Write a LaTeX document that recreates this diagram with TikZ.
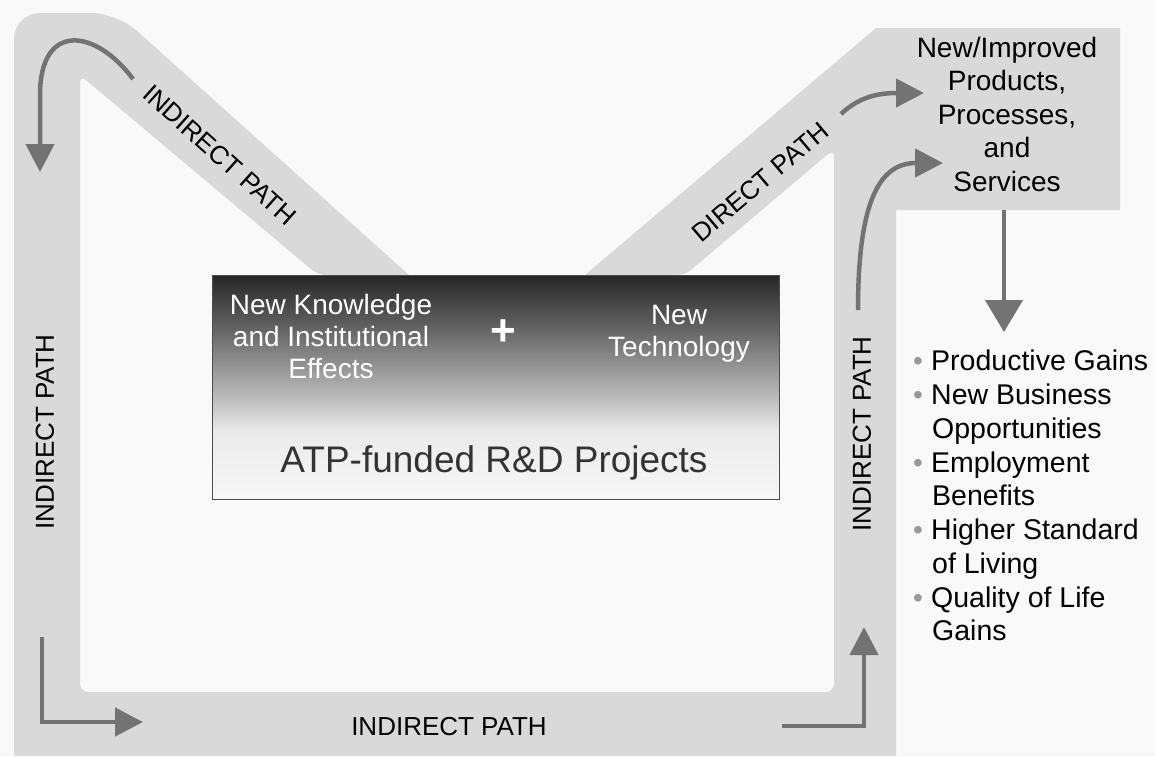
\documentclass[tikz,border=0pt]{standalone}
\usepackage{fontspec}
\setmainfont{Liberation Sans}
\usetikzlibrary{arrows.meta}

\definecolor{bandgray}{gray}{0.85}
\definecolor{arrowgray}{gray}{0.45}
\definecolor{bggray}{gray}{0.975}
\pgfdeclareverticalshading{rdshade}{100bp}{color(0bp)=(black!3); color(25bp)=(black!3);
  color(40bp)=(black!8); color(47bp)=(black!25); color(56bp)=(black!45);
  color(65bp)=(black!65); color(75bp)=(black!85); color(100bp)=(black!85)}

\newcommand{\bul}{\makebox[18pt][l]{\color{black!40}\fontsize{28}{28}\selectfont\textbullet}}
\newcommand{\ind}{\hspace*{19pt}}

\begin{document}
\begin{tikzpicture}[x=1pt,y=-1pt,
   band/.style={fill=bandgray},
   garrow/.style={draw=arrowgray, line width=4.5pt, -{Triangle[width=28pt,length=28pt]}},
   pathlabel/.style={font=\fontsize{26}{30}\selectfont, inner sep=0pt},
   whitetext/.style={text=white, align=center, inner sep=0pt, font=\fontsize{28}{32}\selectfont},
   bigtext/.style={align=center, inner sep=0pt, font=\fontsize{28}{33.5}\selectfont},
   listtext/.style={align=left, inner sep=0pt, font=\fontsize{28.5}{33.75}\selectfont}]
   \fill[bggray] (0,0) rectangle (1155,756);
   % the grey band of the paths
   \fill[band, even odd rule]
      (14,756) {[rounded corners=26pt] -- (14,13) -- (117,13)} -- (409,275) -- (585,275)
      -- (876,28) -- (1120,28) -- (1120,210) -- (896,210) -- (896,756) -- cycle
      {[rounded corners=8pt] (80,75) -- (80,692) -- (834,692) -- (834,149) -- (685,275) -- (318,275) -- cycle};

   \node[draw=black!70, line width=0.8pt, minimum width=567pt, minimum height=224pt,
         inner sep=0pt, shading=rdshade] (rd) at (495.5,387) {};
   \node[whitetext, anchor=north] (know) at (331,294) {New Knowledge\\and Institutional\\Effects};
   \node[text=white, inner sep=0pt, font=\fontsize{44}{44}\selectfont\bfseries] (plus) at (503,333) {+};
   \node[whitetext, anchor=north] (tech) at (679,305) {New\\Technology};
   \node[anchor=base, inner sep=0pt, text=black!80, font=\fontsize{37}{40}\selectfont] (atp) at (494,472) {ATP-funded R\&D Projects};

   \node[pathlabel, rotate=-41.9] (tlpath) at (220,155) {INDIRECT PATH};
   \node[pathlabel, rotate=40.3] (dpath) at (760,182) {DIRECT PATH};
   \node[pathlabel, rotate=90] (lpath) at (45,432) {INDIRECT PATH};
   \node[pathlabel, rotate=90] (rpath) at (862,434) {INDIRECT PATH};
   \node[pathlabel] (bpath) at (449,727) {INDIRECT PATH};

   \node[bigtext, anchor=north] (prod) at (1007,37) {New/Improved\\Products,\\Processes,\\and\\Services};
   \node[listtext, anchor=north west] (gains) at (913,350) {\bul Productive Gains\\
      \bul New Business\\\ind Opportunities\\\bul Employment\\\ind Benefits\\
      \bul Higher Standard\\\ind of Living\\\bul Quality of Life\\\ind Gains};

   \coordinate (a1s) at (133,79);  \coordinate (a1e) at (40,172);
   \coordinate (a2s) at (42,637);  \coordinate (a2e) at (143,722);
   \coordinate (a3s) at (782,726); \coordinate (a3e) at (864,627);
   \coordinate (a4s) at (858,310); \coordinate (a4e) at (943,163);
   \coordinate (a5s) at (841,114); \coordinate (a5e) at (924,93);
   \coordinate (a6s) at (1004,210); \coordinate (a6e) at (1004,332);

   \draw[garrow] (a1s) .. controls (95,28) and (40,22) .. (40,95) -- (a1e);
   \draw[garrow] (a2s) |- (a2e);
   \draw[garrow] (a3s) -| (a3e);
   \draw[garrow] (a4s) .. controls (858,200) and (880,163) .. (a4e);
   \draw[garrow] (a5s) .. controls (860,96) and (880,93) .. (a5e);
   \draw[garrow, -{Triangle[width=37pt,length=32pt]}] (a6s) -- (a6e);
\end{tikzpicture}
\end{document}
